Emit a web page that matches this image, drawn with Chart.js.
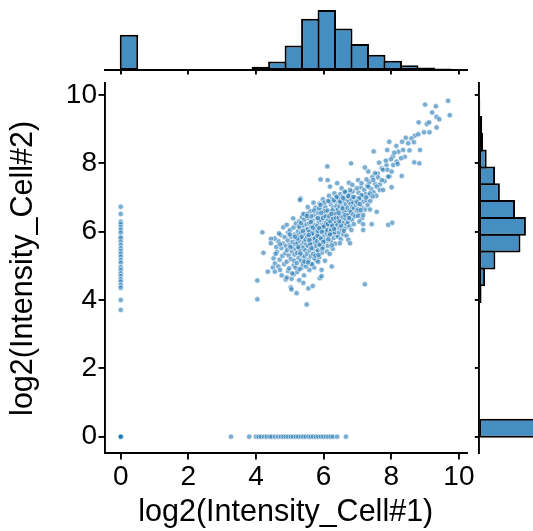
<!DOCTYPE html>
<html>
<head>
<meta charset="utf-8">
<script src="https://cdn.jsdelivr.net/npm/chart.js@4.4.0/dist/chart.umd.min.js"></script>
<style>
  body { margin: 0; background: #fff; }
  #wrap { position: relative; width: 533px; height: 531px; overflow: hidden; }
  canvas { position: absolute; left: 0; top: 0; }
</style>
</head>
<body>
<div id="wrap">
  <canvas id="mainChart" width="533" height="531"></canvas>
  <canvas id="topHist" width="533" height="531"></canvas>
  <canvas id="rightHist" width="533" height="531"></canvas>
</div>
<script>
// ---- data ----
const xTickValues = [0, 2, 4, 6, 8, 10];
const yTickValues = [0, 2, 4, 6, 8, 10];

// marginal histograms, 20 bins starting at 0
const xBinWidth = 0.4875;
const xHistCounts = [88, 0, 0, 0, 0, 0, 2, 2, 8, 21, 61, 128, 150, 104, 65, 38, 23, 12, 6, 4];
const yBinWidth = 0.4925;
const yHistCounts = [260, 0, 0, 0, 0, 0, 0, 0, 7, 18, 50, 128, 145, 111, 64, 49, 23, 12, 9, 3];

// points where Cell#1 = 0 (y values), includes the pile at the origin
const zeroCell1Y = [6.73, 6.52, 6.29, 6.22, 6.13, 6.05, 5.97, 5.85, 5.81, 5.71, 5.61, 5.51, 5.43,
  5.35, 5.27, 5.17, 5.09, 4.96, 4.88, 4.78, 4.70, 4.61, 4.54, 4.44, 4.36, 4.00, 3.71, 0, 0, 0, 0, 0];
// points where Cell#2 = 0 (x values)
const zeroCell2X = [3.26, 3.80, 4.00, 4.08, 4.15, 4.24, 4.32, 4.40, 4.46, 4.56, 4.66, 4.74, 4.81, 4.88,
  4.95, 5.03, 5.10, 5.18, 5.25, 5.33, 5.40, 5.47, 5.55, 5.62, 5.69, 5.77, 5.84, 5.92, 5.99, 6.07,
  6.14, 6.21, 6.28, 6.40, 6.66];

// outer points of the cloud [cell1, cell2]
const cloudEdge = [
  [9.68,9.83],[9.00,9.72],[9.32,9.67],[9.73,9.41],[9.21,9.49],[9.34,9.36],[9.42,9.29],[9.05,9.15],
  [9.12,9.20],[8.81,9.20],[9.34,9.05],[8.97,8.91],[9.13,8.91],[8.70,8.81],[8.80,8.85],[8.60,8.73],
  [8.43,8.75],[7.94,8.63],[8.67,8.62],[8.15,8.51],[8.32,8.63],[8.50,8.59],[8.54,8.38],[8.35,8.39],
  [8.21,8.34],[8.09,8.31],[7.48,8.35],[7.88,8.39],[8.85,8.39],[8.40,8.19],[8.29,8.15],[7.99,8.12],
  [8.16,8.05],[8.06,7.95],[8.19,7.98],[8.68,8.03],[8.83,8.00],[7.64,8.02],[7.84,8.08],[7.76,7.81],
  [7.89,7.81],[8.01,7.76],[7.22,7.88],[7.32,7.76],[8.31,7.63],[7.52,7.71],[7.61,7.59],[7.47,7.51],
  [7.72,7.51],[7.91,7.61],[7.02,7.51],[7.27,7.53],[7.12,7.42],[8.01,7.30],[6.98,7.27],[7.32,7.32],
  [7.57,7.32],[7.66,7.22],[7.76,7.22],[7.37,7.12],[7.12,7.07],[7.05,6.98],[7.25,7.00],[7.45,7.03],
  [6.98,6.88],[7.07,6.81],[7.30,6.78],[7.37,6.65],[7.57,6.58],[7.02,6.65],[7.10,6.63],[7.17,6.49],
  [7.02,6.46],[7.17,6.22],[7.42,6.22],[7.17,6.05],[7.91,6.20],[8.03,6.26],[7.22,4.46],
  [6.11,7.91],[6.81,8.00],[5.91,7.53],[6.12,7.51],[6.19,7.32],[6.40,7.42],[6.53,7.27],[6.75,7.43],
  [6.85,7.37],[6.63,7.17],[6.78,7.22],[5.32,6.97],[6.38,7.02],[6.58,6.98],[6.73,7.04],[6.88,7.02],
  [5.10,6.39],[5.40,6.52],[5.30,6.93],[5.50,6.46],[4.81,6.13],[4.91,6.20],[4.19,5.98],[4.44,5.79],
  [4.44,5.66],[5.00,5.92],[5.15,5.85],[4.22,5.38],[4.58,5.35],[4.71,5.63],[4.56,5.07],[4.66,4.98],
  [4.71,4.88],[4.56,4.83],[4.35,4.83],[4.04,4.57],[4.04,4.02],[5.03,4.37],[5.05,4.31],[5.20,4.20],
  [5.55,4.34],[5.68,4.41],[5.50,3.87],[5.89,4.64],[5.94,4.70],[4.91,4.66],[5.84,5.12],[6.24,4.98],
  [5.94,4.88],[6.73,5.76],[6.78,5.66],[6.48,5.66]
];

// dense core of the cloud [cell1, cell2]
const cloudCore = [
  [4.62,5.41],[4.66,5.72],[4.70,5.18],[4.73,5.90],[4.75,5.52],[4.78,5.29],[4.80,5.65],[4.83,5.05],
  [4.85,5.84],[4.87,5.37],[4.89,5.58],[4.68,5.95],[4.52,5.22],[4.60,5.55],[4.50,4.95],[4.55,5.80],
  [4.76,4.72],[4.88,4.60],[4.95,4.85],[5.05,4.62],[5.12,4.75],[5.22,4.82],[5.28,4.58],[5.35,4.95],
  [5.42,4.72],[5.48,5.12],[5.58,4.88],[5.62,5.05],[5.72,4.95],[5.78,5.15],[5.40,4.50],
  [4.91,5.12],[4.92,5.46],[4.94,5.74],[4.95,5.98],[4.97,5.30],[4.98,4.93],[5.00,5.61],[5.01,6.05],
  [5.03,5.20],[5.04,5.85],[5.06,5.42],[5.07,4.78],[5.08,5.70],[5.10,5.53],[5.11,6.12],[5.12,5.02],
  [5.14,5.33],[5.15,5.92],[5.16,5.64],[5.17,4.95],[5.18,6.24],[5.19,5.48],[5.20,5.77],[5.02,5.55],
  [5.13,5.15],
  [5.21,5.08],[5.22,5.38],[5.23,5.66],[5.24,6.01],[5.25,5.89],[5.26,5.23],[5.27,5.51],[5.28,6.30],
  [5.29,4.90],[5.30,5.74],[5.31,6.10],[5.32,5.44],[5.33,5.15],[5.34,5.97],[5.35,5.60],[5.36,6.42],
  [5.37,5.31],[5.38,5.82],[5.39,5.05],[5.40,6.18],[5.41,5.53],[5.42,5.70],[5.43,6.35],[5.44,5.26],
  [5.45,5.92],[5.46,5.45],[5.47,6.05],[5.48,4.98],[5.49,5.63],[5.50,6.22],[5.23,5.80],[5.27,6.15],
  [5.31,5.36],[5.35,5.85],[5.39,6.02],[5.43,5.13],[5.47,5.77],[5.25,5.55],[5.33,6.25],[5.45,6.50],
  [5.51,5.35],[5.52,5.85],[5.53,6.08],[5.54,5.58],[5.55,6.40],[5.56,5.17],[5.57,5.72],[5.58,6.25],
  [5.59,5.45],[5.60,5.98],[5.61,6.60],[5.62,5.28],[5.63,5.88],[5.64,6.15],[5.65,5.62],[5.66,5.05],
  [5.67,6.33],[5.68,5.78],[5.69,6.02],[5.70,5.50],[5.71,6.48],[5.72,5.92],[5.73,5.22],[5.74,6.20],
  [5.75,5.68],[5.76,6.70],[5.77,5.84],[5.78,6.10],[5.79,5.40],[5.80,6.38],[5.52,6.52],[5.54,5.10],
  [5.57,6.00],[5.60,5.65],[5.63,6.45],[5.66,5.95],[5.69,5.35],[5.72,6.62],[5.75,6.05],[5.78,5.58],
  [5.56,5.90],[5.62,6.28],[5.68,6.12],[5.74,5.80],[5.80,5.98],[5.58,5.76],[5.64,5.52],[5.70,6.85],
  [5.76,5.30],[5.53,6.72],
  [5.81,5.72],[5.82,6.18],[5.83,5.45],[5.84,6.55],[5.85,5.95],[5.86,6.30],[5.87,5.25],[5.88,6.82],
  [5.89,5.85],[5.90,6.08],[5.91,5.60],[5.92,6.42],[5.93,5.98],[5.94,6.65],[5.95,5.38],[5.96,6.22],
  [5.97,5.78],[5.98,6.95],[5.99,6.05],[6.00,5.55],[6.01,6.48],[6.02,5.90],[6.03,6.32],[6.04,5.15],
  [6.05,6.72],[6.06,6.12],[6.07,5.68],[6.08,6.58],[6.09,5.95],[6.10,6.28],[5.82,5.88],[5.84,6.02],
  [5.86,6.68],[5.88,5.62],[5.90,6.35],[5.92,5.80],[5.94,6.12],[5.96,5.50],[5.98,6.40],[6.00,6.20],
  [6.02,6.85],[6.04,5.75],[6.06,6.45],[6.08,6.00],[6.10,5.42],[5.83,6.40],[5.87,6.10],[5.91,6.78],
  [5.95,6.00],[5.99,5.70],[6.03,6.60],[6.07,6.25],[5.85,5.32],[5.93,6.55],[6.01,6.15],
  [6.11,6.05],[6.12,6.62],[6.13,5.58],[6.14,6.35],[6.15,5.88],[6.16,7.05],[6.17,6.18],[6.18,5.35],
  [6.19,6.50],[6.20,6.00],[6.21,6.80],[6.22,5.72],[6.23,6.28],[6.24,6.95],[6.25,5.95],[6.26,6.42],
  [6.27,5.50],[6.28,6.70],[6.29,6.15],[6.30,5.82],[6.31,6.55],[6.32,7.12],[6.33,6.32],[6.34,5.65],
  [6.35,6.88],[6.36,6.08],[6.37,6.60],[6.38,5.90],[6.39,6.45],[6.40,7.00],[6.12,6.22],[6.14,5.78],
  [6.16,6.45],[6.18,6.88],[6.20,6.30],[6.22,6.05],[6.24,5.60],[6.26,6.62],[6.28,6.38],[6.30,6.92],
  [6.32,5.98],[6.34,6.52],[6.36,6.25],[6.38,6.75],[6.13,6.90],[6.19,5.92],[6.25,6.18],[6.31,6.08],
  [6.37,6.40],[6.23,6.52],
  [6.41,6.20],[6.42,6.65],[6.43,5.85],[6.44,6.98],[6.45,6.40],[6.46,5.98],[6.47,6.75],[6.48,6.12],
  [6.49,7.10],[6.50,6.50],[6.51,5.78],[6.52,6.85],[6.53,6.30],[6.54,6.60],[6.55,6.05],[6.56,7.02],
  [6.57,6.42],[6.58,5.92],[6.59,6.72],[6.60,6.25],[6.61,6.90],[6.62,6.55],[6.63,6.10],[6.64,7.15],
  [6.65,6.38],[6.66,6.80],[6.67,6.62],[6.68,5.88],[6.69,6.95],[6.70,6.48],[6.44,6.55],[6.48,6.88],
  [6.52,6.18],[6.56,6.68],[6.60,6.02],[6.64,6.48],[6.68,6.22],[6.46,6.30],
  [6.71,6.70],[6.72,6.28],[6.73,7.05],[6.74,6.50],[6.75,6.88],[6.76,6.15],[6.77,6.62],[6.78,7.12],
  [6.79,6.40],[6.80,6.82],[6.81,6.58],[6.82,6.05],[6.83,6.95],[6.84,6.35],[6.85,6.72],[6.86,7.18],
  [6.87,6.50],[6.88,6.85],[6.89,6.22],[6.90,6.68],[6.92,7.00],[6.94,6.45],[6.96,6.78],[6.98,6.60],
  [6.75,6.40],
  [7.01,6.82],[7.03,7.15],[7.05,6.55],[7.08,6.95],[7.10,7.30],[7.12,6.72],[7.14,6.40],[7.16,7.05],
  [7.18,6.88],[7.20,7.22],[7.22,6.65],[7.25,7.10],[7.27,6.92],[7.29,7.35],[7.06,6.30],
  [7.32,7.05],[7.35,7.45],[7.38,6.90],[7.41,7.25],[7.44,7.60],[7.48,7.15],[7.52,7.40],[7.56,7.05],
  [7.60,7.70],[7.66,7.38],
  [7.72,7.85],[7.80,7.48],[7.86,7.95],[7.95,7.62],[8.05,8.20]
];

// ---- layout (pixels) ----
const W = 533, H = 531;
const plotLeft = 104.5, plotRight = 467, plotTop = 83.4, plotBottom = 453.4;
const topHistTop = 7, topHistBottom = 70;
const rightHistLeft = 479.3;
const xRange = [-0.48, 10.24];
const yRange = [-0.49, 10.34];

const FONT = '"Liberation Sans", Arial, Helvetica, sans-serif';
const POINT_BLUE = 'rgba(31, 119, 180, 0.6)';
const BAR_BLUE = 'rgba(31, 119, 180, 0.83)';

const scatterData = []
  .concat(cloudCore.map(p => ({ x: p[0], y: p[1] })))
  .concat(cloudEdge.map(p => ({ x: p[0], y: p[1] })))
  .concat(zeroCell1Y.map(v => ({ x: 0, y: v })))
  .concat(zeroCell2X.map(v => ({ x: v, y: 0 })));

function setTicks(values) {
  return function(scale) {
    scale.ticks = values.map(v => ({ value: v }));
  };
}

function axisLines(tickLen) {
  return {
    grid: {
      display: true, offset: false, drawOnChartArea: false, drawTicks: true,
      tickLength: tickLen, color: '#000', lineWidth: 1.9
    },
    border: { display: true, color: '#000', width: 1.9 }
  };
}

const noPlugins = { legend: { display: false }, tooltip: { enabled: false } };

// main scatter
new Chart(document.getElementById('mainChart'), {
  type: 'scatter',
  data: {
    datasets: [{
      data: scatterData,
      backgroundColor: POINT_BLUE,
      borderColor: 'rgba(255, 255, 255, 0.7)',
      borderWidth: 0.9,
      pointRadius: 2.7,
      pointHoverRadius: 2.7
    }]
  },
  options: {
    responsive: false,
    animation: false,
    layout: { padding: { left: 0, top: plotTop, right: W - plotRight, bottom: 0 } },
    plugins: noPlugins,
    scales: {
      x: Object.assign({
        type: 'linear',
        min: xRange[0],
        max: xRange[1],
        afterBuildTicks: setTicks(xTickValues),
        afterFit: s => { s.height = H - plotBottom; },
        ticks: { color: '#000', font: { family: FONT, size: 28 }, padding: 1, maxRotation: 0, autoSkip: false },
        title: {
          display: true, text: 'log2(Intensity_Cell#1)', color: '#000',
          font: { family: FONT, size: 30.5 }, padding: { top: 0, bottom: 0 }
        }
      }, axisLines(6)),
      y: Object.assign({
        type: 'linear',
        min: yRange[0],
        max: yRange[1],
        afterBuildTicks: setTicks(yTickValues),
        afterFit: s => { s.width = plotLeft; },
        ticks: { color: '#000', font: { family: FONT, size: 28 }, padding: 1.5, autoSkip: false },
        title: {
          display: true, text: 'log2(Intensity_Cell#2)', color: '#000',
          font: { family: FONT, size: 30.5 }, padding: { top: 5, bottom: 0 }
        }
      }, axisLines(6))
    }
  }
});

// top marginal histogram (Cell#1)
new Chart(document.getElementById('topHist'), {
  type: 'bar',
  data: {
    datasets: [{
      data: xHistCounts.map((c, i) => ({ x: (i + 0.5) * xBinWidth, y: c })),
      backgroundColor: BAR_BLUE,
      borderColor: '#000',
      borderWidth: 2,
      borderSkipped: false,
      barPercentage: 1.12,
      categoryPercentage: 1
    }]
  },
  options: {
    responsive: false,
    animation: false,
    layout: { padding: { left: plotLeft, top: topHistTop, right: W - plotRight, bottom: 0 } },
    plugins: noPlugins,
    scales: {
      x: Object.assign({
        type: 'linear',
        offset: false,
        min: xRange[0],
        max: xRange[1],
        afterBuildTicks: setTicks(xTickValues),
        afterFit: s => { s.height = H - topHistBottom; },
        ticks: { display: false }
      }, axisLines(4.5)),
      y: { display: false, min: 0, max: 157.5 }
    }
  }
});

// right marginal histogram (Cell#2)
new Chart(document.getElementById('rightHist'), {
  type: 'bar',
  data: {
    datasets: [{
      data: yHistCounts.map((c, i) => ({ y: (i + 0.5) * yBinWidth, x: c })),
      backgroundColor: BAR_BLUE,
      borderColor: '#000',
      borderWidth: 2,
      borderSkipped: false,
      barPercentage: 1.12,
      categoryPercentage: 1
    }]
  },
  options: {
    indexAxis: 'y',
    responsive: false,
    animation: false,
    layout: { padding: { left: 0, top: plotTop, right: 0, bottom: H - plotBottom } },
    plugins: noPlugins,
    scales: {
      y: Object.assign({
        type: 'linear',
        offset: false,
        min: yRange[0],
        max: yRange[1],
        afterBuildTicks: setTicks(yTickValues),
        afterFit: s => { s.width = rightHistLeft; },
        ticks: { display: false }
      }, axisLines(4.5)),
      x: { display: false, min: 0, max: 167 }
    }
  }
});
</script>
</body>
</html>
